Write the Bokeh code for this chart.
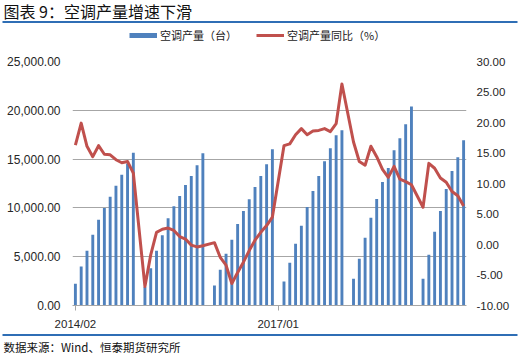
from bokeh.plotting import figure
from bokeh.layouts import column
from bokeh.models import (Range1d, LinearAxis, FixedTicker, NumeralTickFormatter, Legend,
                          LegendItem, Label, BoxAnnotation, ColumnDataSource, Grid)
from bokeh.embed import file_html
from bokeh.resources import INLINE

# ---------------- data ----------------
first_year, last_year = 2014, 2019
first_month, last_month = 2, 9

# cumulative air-conditioner output (Feb..Dec of each year; January not published)
prod_2014 = [2230, 3990, 5620, 7240, 8790, 9990, 11150, 12270, 13400, 14540, 15650]
prod_2015 = [1900, 3810, 5610, 7200, 8940, 10170, 11220, 12340, 13260, 14380, 15610]
prod_2016 = [2040, 3670, 5300, 6730, 8360, 9690, 10880, 12140, 13260, 14480, 16010]
prod_2017 = [2450, 4390, 6320, 8160, 10100, 11730, 13260, 14790, 16120, 17440, 17950]
prod_2018 = [2750, 4790, 6940, 8980, 10910, 12650, 14080, 15910, 17140, 18560, 20400]
prod_2019 = [2750, 5200, 7550, 9690, 11930, 13770, 15200, 16930]

# year-on-year growth (%)
yoy_2014 = [16.3, 19.9, 16.1, 14.4, 16.2, 14.8, 14.7, 13.9, 13.4, 13.6, 11.7]
yoy_2015 = [-6.9, -1.7, 2.0, 2.5, 2.7, 2.3, 1.3, 0.9, -0.1, -0.4, -0.2]
yoy_2016 = [0.3, -2.1, -3.4, -6.4, -4.6, -2.9, -1.0, 0.7, 2.0, 3.1, 4.5]
yoy_2017 = [16.2, 16.5, 18.0, 19.0, 18.0, 18.6, 18.7, 19.0, 18.5, 19.8, 26.3]
yoy_2018 = [16.8, 13.6, 13.0, 16.1, 14.4, 12.3, 11.0, 12.8, 10.7, 10.3, 9.8]
yoy_2019 = [6.1, 13.3, 12.5, 10.9, 10.2, 8.7, 8.0, 6.3]

prod_by_year = {2014: prod_2014, 2015: prod_2015, 2016: prod_2016,
                2017: prod_2017, 2018: prod_2018, 2019: prod_2019}
yoy_by_year = {2014: yoy_2014, 2015: yoy_2015, 2016: yoy_2016,
               2017: yoy_2017, 2018: yoy_2018, 2019: yoy_2019}

shown_labels = ["2014/02", "2017/01"]
left_ticks = [0, 5000, 10000, 15000, 20000, 25000]
right_ticks = [-10, -5, 0, 5, 10, 15, 20, 25, 30]

title_text = "图表 9：空调产量增速下滑"
bar_name = "空调产量（台）"
line_name = "空调产量同比（%）"
source_text = "数据来源：Wind、恒泰期货研究所"

# ---------------- assemble monthly series ----------------
months, prod, yoy = [], [], []
for yr in range(first_year, last_year + 1):
    for m in range(1, 13):
        if (yr == first_year and m < first_month) or (yr == last_year and m > last_month):
            continue
        months.append(f"{yr}/{m:02d}")
        if m == 1:
            prod.append(None)
            yoy.append(None)
        else:
            prod.append(prod_by_year[yr][m - 2])
            yoy.append(yoy_by_year[yr][m - 2])

xs = [i + 0.5 for i in range(len(months))]
bar_src = ColumnDataSource(dict(x=[x for x, v in zip(xs, prod) if v is not None],
                                top=[v for v in prod if v is not None]))
line_src = ColumnDataSource(dict(x=[x for x, v in zip(xs, yoy) if v is not None],
                                 y=[v for v in yoy if v is not None]))

BLUE = "#4F81BD"
RED = "#C0504D"
RULE = "#2F6EB5"
GRID = "#A6A6A6"
TXT = "#262626"
NUM_FONT = "Liberation Sans"
CJK_FONT = "Noto Sans CJK SC"
W = 520
NAN = float("nan")


def bare_fig(h):
    f = figure(width=W, height=h, output_backend="svg", toolbar_location=None,
               x_range=Range1d(0, 1), y_range=Range1d(0, 1),
               x_axis_type=None, y_axis_type=None, frame_align=False,
               min_border_left=0, min_border_right=0, min_border_top=0, min_border_bottom=0)
    f.outline_line_color = None
    f.background_fill_color = "white"
    f.border_fill_color = "white"
    f.grid.visible = False
    return f


# ---------------- header: title, rule, legend ----------------
HEAD_H = 48
head = bare_fig(HEAD_H)
head.add_layout(Label(x=3, y=HEAD_H - 10.7, x_units="screen", y_units="screen", text=title_text,
                      text_font=CJK_FONT, text_font_size="16px", text_baseline="middle",
                      text_color="#111111"))
head.add_layout(BoxAnnotation(left=2, right=517, top=HEAD_H - 20.5, bottom=HEAD_H - 22.5,
                              left_units="screen", right_units="screen",
                              top_units="screen", bottom_units="screen",
                              fill_color=RULE, fill_alpha=1, line_color=None))
# legend proxies (hold no visible point, only carry the legend styling)
bar_proxy = head.line(x=[NAN], y=[NAN], line_color=BLUE, line_width=5, line_cap="butt")
line_proxy = head.line(x=[NAN], y=[NAN], line_color=RED, line_width=3)
legend = Legend(items=[LegendItem(label=bar_name, renderers=[bar_proxy]),
                       LegendItem(label=line_name, renderers=[line_proxy])],
                orientation="horizontal", location=(129, HEAD_H - 43), padding=0, margin=0,
                spacing=19, label_standoff=3, glyph_width=28, glyph_height=16, label_height=16,
                border_line_color=None, background_fill_alpha=0,
                label_text_font=CJK_FONT, label_text_font_size="11px", label_text_color="#1a1a1a")
head.add_layout(legend)

# ---------------- main chart ----------------
MAIN_H = 285
p = figure(width=W, height=MAIN_H, output_backend="svg", toolbar_location=None,
           x_range=Range1d(0, len(months)), y_range=Range1d(left_ticks[0], left_ticks[-1]),
           x_axis_type=None, y_axis_type=None, frame_align=False,
           min_border_left=72, min_border_right=54, min_border_top=13, min_border_bottom=28)
p.extra_y_ranges = {"yoy": Range1d(right_ticks[0], right_ticks[-1])}
p.outline_line_color = None
p.background_fill_color = "white"
p.border_fill_color = "white"

ya = LinearAxis(ticker=FixedTicker(ticks=left_ticks), formatter=NumeralTickFormatter(format="0,0.00"),
                axis_line_color=None, major_tick_line_color=None, minor_tick_line_color=None,
                major_tick_out=0, major_tick_in=0, minor_tick_out=0, minor_tick_in=0,
                major_label_standoff=12, major_label_text_font=NUM_FONT,
                major_label_text_font_size="12px", major_label_text_color=TXT)
p.add_layout(ya, "left")

yb = LinearAxis(y_range_name="yoy", ticker=FixedTicker(ticks=right_ticks),
                formatter=NumeralTickFormatter(format="0.00"),
                axis_line_color=None, major_tick_line_color=None, minor_tick_line_color=None,
                major_tick_out=0, major_tick_in=0, minor_tick_out=0, minor_tick_in=0,
                major_label_standoff=10, major_label_text_font=NUM_FONT,
                major_label_text_font_size="11.5px", major_label_text_color=TXT)
p.add_layout(yb, "right")

label_pos = [months.index(s) + 0.5 for s in shown_labels]
xa = LinearAxis(ticker=FixedTicker(ticks=label_pos),
                major_label_overrides={t: s for t, s in zip(label_pos, shown_labels)},
                axis_line_color=GRID, major_tick_line_color=GRID, major_tick_out=5, major_tick_in=0,
                minor_tick_line_color=None, minor_tick_out=0, minor_tick_in=0,
                major_label_standoff=7, major_label_text_font=NUM_FONT,
                major_label_text_font_size="11.5px", major_label_text_color=TXT)
p.add_layout(xa, "below")

p.add_layout(Grid(dimension=1, ticker=ya.ticker, grid_line_color=GRID, grid_line_width=1))

p.vbar(x="x", top="top", bottom=0, width=0.5, source=bar_src, fill_color=BLUE, line_color=None)
p.line(x="x", y="y", source=line_src, y_range_name="yoy", line_color=RED,
       line_width=3, line_join="round")

# ---------------- footer: rule and source note ----------------
FOOT_H = 23
foot = bare_fig(FOOT_H)
foot.add_layout(BoxAnnotation(left=2, right=517, top=FOOT_H - 0.5, bottom=FOOT_H - 2.5,
                              left_units="screen", right_units="screen",
                              top_units="screen", bottom_units="screen",
                              fill_color=RULE, fill_alpha=1, line_color=None))
foot.add_layout(Label(x=3, y=FOOT_H - 13, x_units="screen", y_units="screen", text=source_text,
                      text_font=CJK_FONT, text_font_size="11.5px", text_baseline="middle",
                      text_color="#111111"))

page = column(head, p, foot, spacing=0)
open("out.html", "w").write(file_html(page, INLINE))
